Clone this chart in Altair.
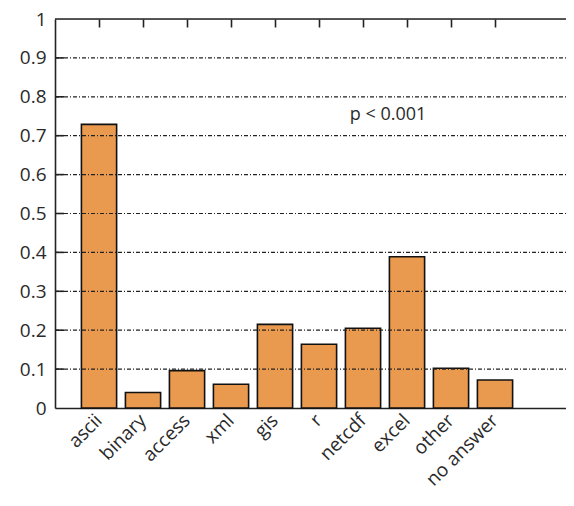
import altair as alt
import pandas as pd

categories = ["ascii", "binary", "access", "xml", "gis", "r", "netcdf", "excel", "other", "no answer"]
values = [0.729, 0.040, 0.096, 0.061, 0.215, 0.164, 0.205, 0.389, 0.102, 0.072]
grid_vals = [0.1, 0.2, 0.3, 0.4, 0.5, 0.6, 0.7, 0.8, 0.9]
annotation = "p < 0.001"

df = pd.DataFrame({"cat": categories, "val": values})
grid_df = pd.DataFrame({"g": grid_vals})

FONT = "Open Sans"
xscale = alt.Scale(domain=categories, paddingInner=0.2, paddingOuter=0.907, align=0.331)
yscale = alt.Scale(domain=[0, 1], nice=False, zero=True)

xaxis = alt.Axis(title=None, labelAngle=-45, labelAlign="right", labelBaseline="middle",
                 labelPadding=9, tickSize=0, domainColor="#222222", domainWidth=1.6,
                 labelFontSize=19, labelFont=FONT, labelColor="#2a2a2a",
                 labelOverlap=False)
yaxis = alt.Axis(title=None, tickCount=10, format="~g", tickSize=0, labelPadding=9,
                 labelFontSize=19, labelFont=FONT, labelColor="#2a2a2a",
                 domainColor="#222222", domainWidth=1.6, labelOverlap=False,
                 labelFlush=False, grid=False)
top_axis = alt.Axis(title=None, orient="top", offset=-8, tickSize=8, labels=False,
                    domain=False, ticks=True, tickColor="#222222", tickWidth=1.6, grid=False)

bars = alt.Chart(df).mark_bar(color="#E99A4E", stroke="#111111", strokeWidth=1.6).encode(
    x=alt.X("cat:N", scale=xscale, sort=categories, axis=xaxis),
    y=alt.Y("val:Q", scale=yscale, axis=yaxis),
)

grid = alt.Chart(grid_df).mark_rule(color="#222222", strokeWidth=1.2, strokeDash=[4, 2, 1, 2]).encode(
    y=alt.Y("g:Q"),
    x=alt.value(0),
    x2=alt.value(520),
)

left_ticks = alt.Chart(grid_df).mark_rule(color="#222222", strokeWidth=1.6).encode(
    y=alt.Y("g:Q"),
    x=alt.value(0),
    x2=alt.value(9),
)

top_border = alt.Chart(pd.DataFrame({"t": [1.0]})).mark_rule(color="#222222", strokeWidth=1.6).encode(
    y=alt.Y("t:Q"),
    x=alt.value(0),
    x2=alt.value(520),
)

top_ticks = alt.Chart(df).mark_point(opacity=0).encode(
    x=alt.X("cat:N", scale=xscale, sort=categories, axis=top_axis),
    y=alt.Y("val:Q"),
)

text = alt.Chart(pd.DataFrame({"label": [annotation], "yv": [0.752]})).mark_text(
    font=FONT, fontSize=18, color="#2a2a2a", align="center", baseline="middle"
).encode(
    x=alt.value(333),
    y=alt.Y("yv:Q"),
    text="label:N",
)

chart = alt.layer(bars, grid, left_ticks, top_border, top_ticks, text).resolve_axis(
    x="independent"
).properties(
    width=511, height=389,
    autosize=alt.AutoSizeParams(type="none"),
    padding={"left": 47, "top": 11, "right": 0, "bottom": 92},
).configure_view(stroke=None).configure(background="white")

chart.save("out.html", embed_options={"renderer": "svg", "actions": False})
